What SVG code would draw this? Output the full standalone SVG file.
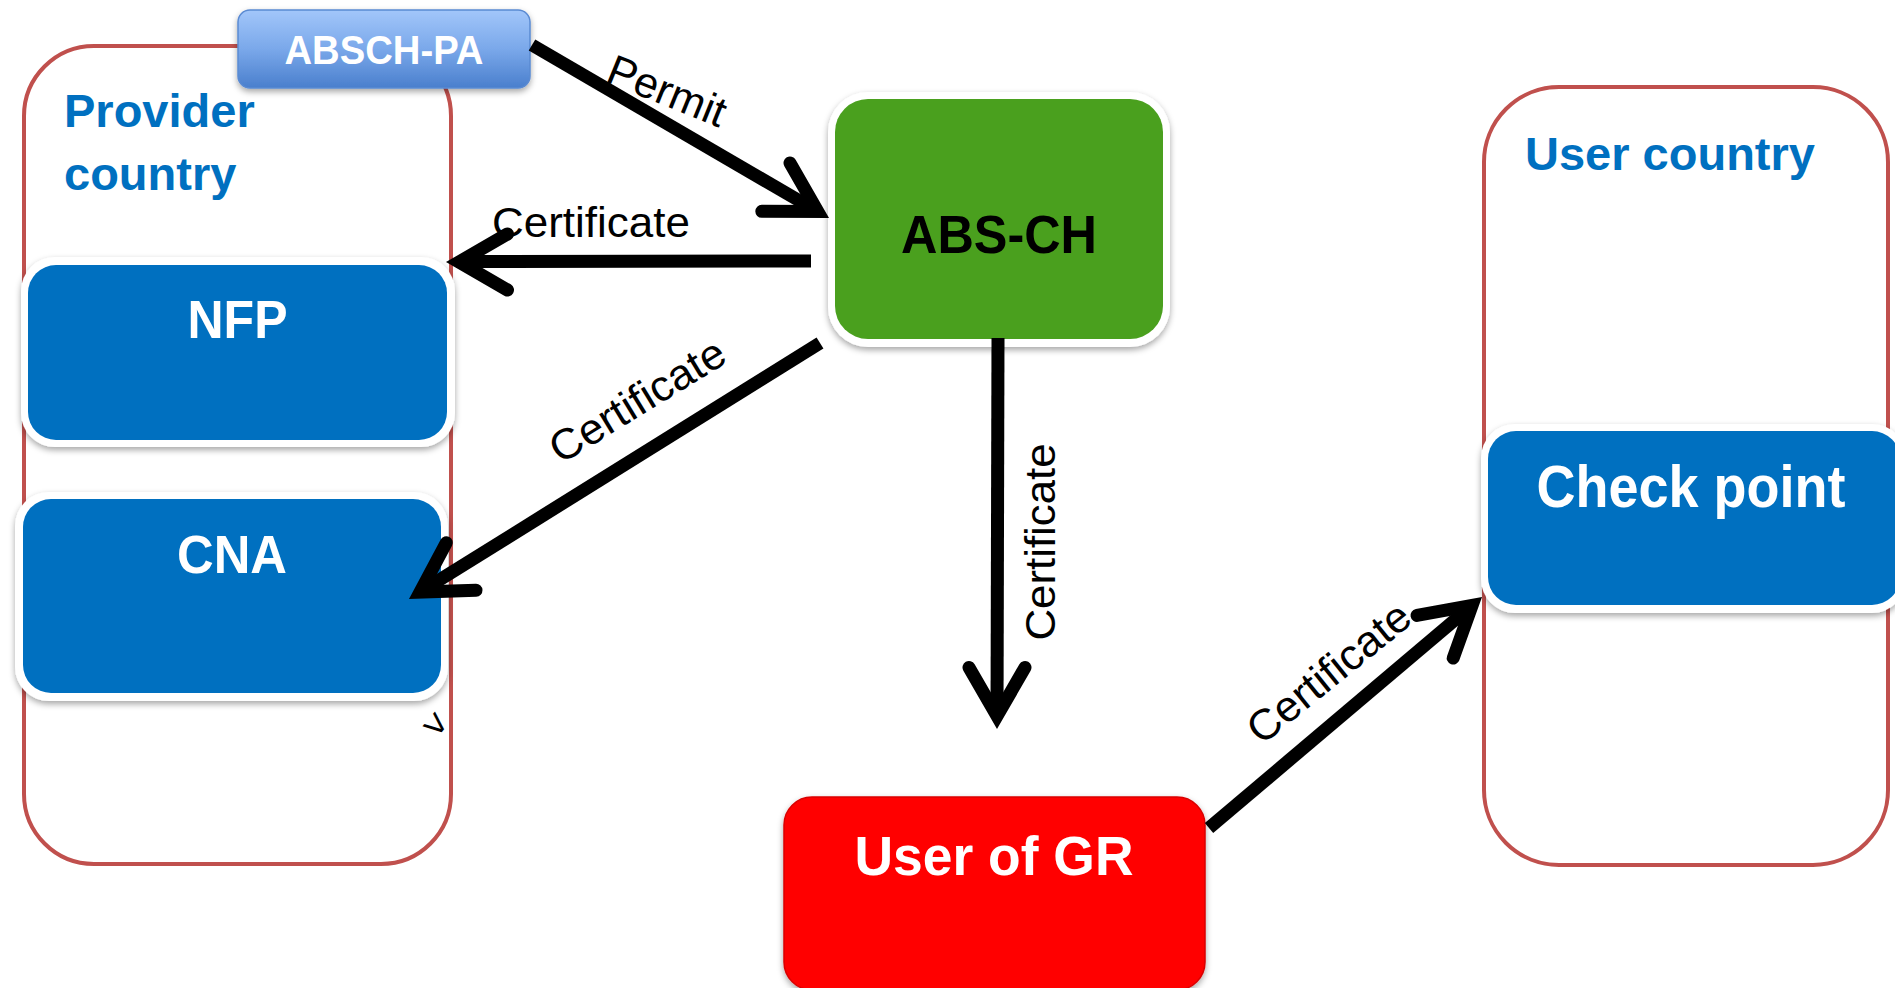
<svg xmlns="http://www.w3.org/2000/svg" width="1895" height="988" viewBox="0 0 1895 988">
  <defs>
    <filter id="sh" x="-10%" y="-10%" width="120%" height="130%">
      <feDropShadow dx="0" dy="3" stdDeviation="3" flood-color="#000" flood-opacity="0.35"/>
    </filter>
    <linearGradient id="paGrad" x1="0" y1="0" x2="0" y2="1">
      <stop offset="0" stop-color="#A2C6FA"/>
      <stop offset="0.5" stop-color="#7AA8EA"/>
      <stop offset="1" stop-color="#4A7FCD"/>
    </linearGradient>
    <style>
      .container { fill: none; stroke: #C0504D; stroke-width: 4; }
      .frame { fill: #FFFFFF; filter: url(#sh); }
      .blue { fill: #0070C0; }
      .title { font-family: "Liberation Sans", Arial, sans-serif; font-weight: bold; fill: #0070C0; font-size: 47px; }
      .lbl { font-family: "Liberation Sans", Arial, sans-serif; font-weight: bold; fill: #FFFFFF; text-anchor: middle; }
      .edge { fill: none; stroke: #000; stroke-width: 13; stroke-linecap: butt; }
      .head { fill: none; stroke: #000; stroke-width: 13; stroke-linecap: round; stroke-linejoin: miter; stroke-miterlimit: 6; }
      .elbl { font-family: "Liberation Sans", Arial, sans-serif; font-size: 43px; fill: #000; }
    </style>
  </defs>
  <rect x="0" y="0" width="1895" height="988" fill="#FFFFFF"/>

  <g id="provider-country">
    <rect class="container" x="24" y="46" width="427" height="818" rx="70"/>
    <text class="title" x="64" y="127">Provider</text>
    <text class="title" x="64" y="190">country</text>
  </g>

  <g id="user-country">
    <rect class="container" x="1484" y="87" width="404" height="778" rx="75"/>
    <text class="title" x="1525" y="170">User country</text>
  </g>

  <g id="absch-pa">
    <rect x="238" y="10" width="292" height="78" rx="12" fill="url(#paGrad)" stroke="#5A8AD2" stroke-width="1.5" filter="url(#sh)"/>
    <text class="lbl" x="384" y="64" font-size="41" textLength="199" lengthAdjust="spacingAndGlyphs">ABSCH-PA</text>
  </g>

  <g id="nfp">
    <rect class="frame" x="21" y="257" width="434" height="190" rx="34"/>
    <rect class="blue" x="28" y="265" width="419" height="175" rx="28"/>
    <text class="lbl" x="237.5" y="338" font-size="53" textLength="100" lengthAdjust="spacingAndGlyphs">NFP</text>
  </g>

  <g id="cna">
    <rect class="frame" x="15" y="492" width="433" height="209" rx="34"/>
    <rect class="blue" x="23" y="499" width="418" height="194" rx="28"/>
    <text class="lbl" x="232" y="573" font-size="53" textLength="110" lengthAdjust="spacingAndGlyphs">CNA</text>
  </g>

  <g id="abs-ch">
    <rect class="frame" x="828" y="92" width="342" height="255" rx="40"/>
    <rect x="835" y="99" width="328" height="240" rx="33" fill="#4AA01E"/>
    <text x="999" y="253" font-family="Liberation Sans, Arial, sans-serif" font-weight="bold" font-size="54" fill="#000" text-anchor="middle" textLength="196" lengthAdjust="spacingAndGlyphs">ABS-CH</text>
  </g>

  <g id="check-point">
    <rect class="frame" x="1481" y="424" width="425" height="189" rx="34"/>
    <rect class="blue" x="1488" y="431" width="412" height="174" rx="28"/>
    <text class="lbl" x="1691" y="507" font-size="59" textLength="309" lengthAdjust="spacingAndGlyphs">Check point</text>
  </g>

  <g id="user-of-gr">
    <rect x="784" y="797" width="421" height="193" rx="28" fill="#FF0606" stroke="#DA0000" stroke-width="1.5" filter="url(#sh)"/>
    <text class="lbl" x="994" y="875" font-size="56" textLength="279" lengthAdjust="spacingAndGlyphs">User of GR</text>
  </g>

  <g id="stray-mark">
    <text x="0" y="0" transform="translate(427.7,734.5) rotate(40)" font-family="Liberation Sans, Arial, sans-serif" font-size="38" fill="#000" text-anchor="middle">&gt;</text>
  </g>

  <g id="connectors">
    <!-- Permit: ABSCH-PA -> ABS-CH -->
    <line class="edge" x1="532" y1="45" x2="817.8" y2="211.5"/>
    <polyline class="head" points="790,162.9 817.8,211.5 761.8,211.3"/>
    <text class="elbl" transform="translate(661.5,104.5) rotate(22)" text-anchor="middle" font-size="42">Permit</text>

    <!-- ABS-CH -> NFP -->
    <line class="edge" x1="811" y1="261" x2="459" y2="261.5"/>
    <polyline class="head" points="507.5,234 459,262 507.5,290"/>
    <text class="elbl" x="492" y="237" textLength="198" lengthAdjust="spacingAndGlyphs">Certificate</text>

    <!-- ABS-CH -> CNA -->
    <line class="edge" x1="820" y1="343" x2="420" y2="592.1"/>
    <polyline class="head" points="446.3,542.7 420,592.1 476,590.2"/>
    <text class="elbl" transform="translate(645,413) rotate(-31.5)" text-anchor="middle" textLength="198" lengthAdjust="spacingAndGlyphs">Certificate</text>

    <!-- ABS-CH -> User of GR -->
    <line class="edge" x1="998" y1="338" x2="997" y2="716"/>
    <polyline class="head" points="969,667.5 997,716 1025,667.5"/>
    <text class="elbl" transform="translate(1055,542) rotate(-90)" text-anchor="middle" textLength="197" lengthAdjust="spacingAndGlyphs">Certificate</text>

    <!-- User of GR -> Check point -->
    <line class="edge" x1="1209" y1="828" x2="1472.1" y2="605.4"/>
    <polyline class="head" points="1417,615.4 1472.1,605.4 1453.2,658.1"/>
    <text class="elbl" transform="translate(1338,684) rotate(-39)" text-anchor="middle" textLength="197" lengthAdjust="spacingAndGlyphs">Certificate</text>
  </g>
</svg>
